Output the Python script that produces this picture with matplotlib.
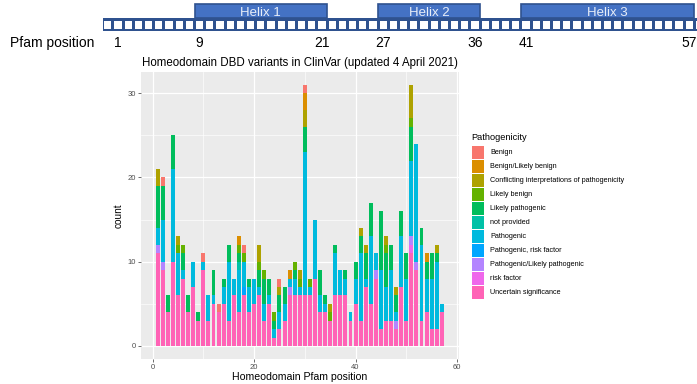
import matplotlib
matplotlib.use("Agg")
import matplotlib.pyplot as plt
from matplotlib.patches import Rectangle
import numpy as np

plt.rcParams['font.family'] = ['Liberation Sans', 'DejaVu Sans']

# ---- data ----
categories = ["Benign", "Benign/Likely benign",
              "Conflicting interpretations of pathogenicity", "Likely benign",
              "Likely pathogenic", "not provided", "Pathogenic",
              "Pathogenic, risk factor", "Pathogenic/Likely pathogenic",
              "risk factor", "Uncertain significance"]
colors = ["#F8766D", "#DB8E00", "#AEA200", "#64B200", "#00BD5C", "#00C1A7",
          "#00BADE", "#00A6FF", "#B385FF", "#EF67EB", "#FF63B6"]

positions = list(range(1, 58))

benign = [0, 1, 0, 0, 0, 0, 0, 0, 0, 1, 0, 0, 1, 0, 0, 0, 0, 1, 0, 0,
          0, 0, 0, 0, 1, 0, 0, 0, 0, 1, 0, 0, 0, 0, 0, 0, 0, 0, 0, 0,
          0, 0, 0, 0, 0, 0, 0, 0, 0, 0, 0, 0, 0, 0, 0, 0, 0]
benign_lb = [0, 0, 0, 0, 0, 0, 0, 0, 0, 0, 0, 0, 0, 0, 0, 0, 1, 0, 0, 0,
             0, 0, 0, 0, 0, 0, 1, 0, 0, 2, 0, 0, 0, 0, 0, 0, 0, 0, 0, 0,
             0, 0, 0, 0, 0, 0, 0, 0, 0, 0, 0, 0, 0, 1, 0, 0, 0]
conflicting = [2, 0, 0, 0, 1, 0, 0, 0, 0, 0, 0, 0, 0, 0, 0, 0, 0, 0, 0, 0,
               2, 0, 0, 0, 1, 0, 0, 0, 1, 2, 0, 0, 0, 0, 1, 0, 0, 0, 0, 0,
               1, 1, 0, 0, 0, 1, 0, 1, 0, 0, 4, 0, 0, 0, 0, 1, 0]
likely_benign = [0, 0, 0, 0, 1, 1, 0, 0, 0, 0, 0, 0, 0, 0, 0, 0, 1, 1, 0, 0,
                 1, 1, 0, 1, 0, 0, 0, 1, 1, 0, 1, 0, 0, 0, 1, 0, 0, 0, 0, 0,
                 0, 0, 0, 0, 0, 1, 0, 0, 0, 0, 1, 0, 0, 0, 0, 0, 0]
likely_path = [5, 4, 2, 4, 0, 2, 2, 0, 1, 0, 0, 3, 0, 1, 2, 0, 1, 0, 1, 0,
               2, 3, 2, 1, 2, 2, 0, 1, 0, 3, 0, 0, 3, 1, 0, 1, 0, 1, 0, 2,
               2, 3, 4, 0, 7, 4, 3, 2, 3, 3, 4, 0, 2, 2, 3, 1, 0]
not_provided = [0, 0, 0, 0, 0, 0, 0, 0, 0, 0, 0, 0, 0, 0, 0, 0, 1, 0, 0, 0,
                0, 0, 0, 0, 0, 0, 0, 0, 0, 0, 0, 0, 0, 0, 0, 0, 0, 0, 0, 0,
                0, 0, 0, 0, 0, 0, 0, 0, 0, 0, 0, 0, 0, 0, 0, 0, 0]
pathogenic = [2, 5, 0, 11, 5, 1, 0, 3, 0, 1, 3, 1, 0, 2, 7, 2, 5, 3, 3, 3,
              1, 2, 1, 1, 2, 2, 1, 2, 1, 17, 1, 7, 2, 1, 0, 5, 3, 2, 1, 3,
              8, 1, 8, 2, 7, 4, 6, 1, 6, 5, 9, 14, 9, 4, 6, 8, 1]
path_rf = [0, 0, 0, 0, 0, 0, 0, 0, 0, 0, 0, 0, 0, 0, 0, 0, 0, 1, 0, 0,
           0, 0, 0, 0, 0, 0, 0, 0, 0, 0, 0, 0, 0, 0, 0, 0, 0, 0, 0, 0,
           0, 0, 0, 0, 0, 0, 0, 0, 0, 0, 0, 0, 0, 0, 0, 0, 0]
path_lp = [1, 1, 0, 0, 0, 0, 0, 0, 0, 0, 0, 0, 0, 0, 0, 0, 0, 0, 0, 0,
           0, 0, 0, 0, 0, 0, 1, 0, 0, 0, 0, 0, 0, 0, 0, 0, 0, 0, 0, 0,
           0, 0, 0, 1, 0, 0, 0, 1, 0, 0, 1, 1, 0, 0, 0, 0, 0]
risk_factor = [0, 0, 0, 0, 0, 0, 0, 0, 0, 0, 0, 0, 0, 0, 0, 0, 0, 0, 0, 0,
               0, 0, 0, 0, 0, 0, 0, 0, 0, 0, 0, 0, 0, 0, 0, 0, 0, 0, 0, 0,
               0, 0, 0, 0, 0, 0, 0, 0, 0, 0, 1, 0, 0, 0, 0, 0, 0]
uncertain = [11, 9, 4, 10, 6, 8, 4, 7, 3, 9, 3, 5, 4, 5, 3, 6, 4, 6, 4, 5,
             6, 3, 5, 1, 2, 3, 6, 6, 6, 6, 6, 8, 4, 4, 3, 6, 6, 6, 3, 5,
             3, 7, 5, 8, 2, 3, 3, 2, 7, 3, 11, 9, 3, 4, 2, 2, 4]

series = [benign, benign_lb, conflicting, likely_benign, likely_path,
          not_provided, pathogenic, path_rf, path_lp, risk_factor, uncertain]

# header (protein diagram)
pfam_labels = [1, 9, 21, 27, 36, 41, 57]
helices = [("Helix 1", 9, 21), ("Helix 2", 27, 36), ("Helix 3", 41, 57)]

W, H = 697, 384
fig = plt.figure(figsize=(W / 100, H / 100), dpi=100)

# ---- main ggplot-like panel ----
ax = fig.add_axes([141 / W, 1 - 359 / H, (458.5 - 141) / W, (359 - 71.6) / H])
ax.set_facecolor("#EBEBEB")
bottom = np.zeros(len(positions))
for name, col, vals in reversed(list(zip(categories, colors, series))):
    vals = np.array(vals)
    ax.bar(positions, vals, width=0.78, bottom=bottom, color=col, linewidth=0,
           zorder=3)
    bottom += vals

ax.set_xlim(-2.29, 60.29)
ax.set_ylim(-1.55, 32.55)
ax.set_xticks([0, 20, 40, 60])
ax.set_yticks([0, 10, 20, 30])
ax.set_xticks([10, 30, 50], minor=True)
ax.set_yticks([5, 15, 25], minor=True)
ax.grid(which="major", color="white", lw=0.9, zorder=1)
ax.grid(which="minor", color="white", lw=0.45, zorder=1)
for s in ax.spines.values():
    s.set_visible(False)
ax.tick_params(which="major", length=2, width=0.5, color="#333333",
               labelsize=5.5, labelcolor="#4D4D4D", pad=1.5)
ax.tick_params(which="minor", length=0)
ax.set_xlabel("Homeodomain Pfam position", fontsize=7.6, labelpad=1)
ax.set_ylabel("count", fontsize=7.2, labelpad=3)
ax.set_title("Homeodomain DBD variants in ClinVar (updated 4 April 2021)",
             fontsize=8.3, pad=4)

# ---- overlay in pixel coordinates for header and legend ----
ov = fig.add_axes([0, 0, 1, 1])
ov.set_xlim(0, W)
ov.set_ylim(H, 0)
ov.axis("off")


def px(p):
    return 118 + (p - 1) * 10.2


# residue band
ov.add_patch(Rectangle((103, 18), W - 103, 13, facecolor="#2F528F",
                       edgecolor="none"))
for p in range(0, 59):
    ov.add_patch(Rectangle((px(p) - 3.6, 20.5), 7.2, 8, facecolor="white",
                           edgecolor="none"))

for name, a, b in helices:
    x0 = px(a) - 5.1
    x1 = min(px(b) + 5.1, W - 1)
    ov.add_patch(Rectangle((x0, 4), x1 - x0, 14, facecolor="#4472C4",
                           edgecolor="#2F528F", lw=1.2))
    ov.text((x0 + x1) / 2, 12.5, name, color="#E8EEF8", fontsize=9.5,
            ha="center", va="center")

ov.text(10, 43, "Pfam position", fontsize=10, ha="left", va="center")
for p in pfam_labels:
    ov.text(px(p), 43, str(p), fontsize=10, ha="center", va="center")

# legend
ov.text(471.7, 137, "Pathogenicity", fontsize=6.7, ha="left", va="center")
for i, (name, col) in enumerate(zip(categories, colors)):
    yc = 152.7 + i * 14
    ov.add_patch(Rectangle((471.7, yc - 6.5), 12.6, 13, facecolor=col,
                           edgecolor="none"))
    ov.text(490, yc, name, fontsize=5.25, ha="left", va="center")

fig.savefig("out.png", dpi=100)
